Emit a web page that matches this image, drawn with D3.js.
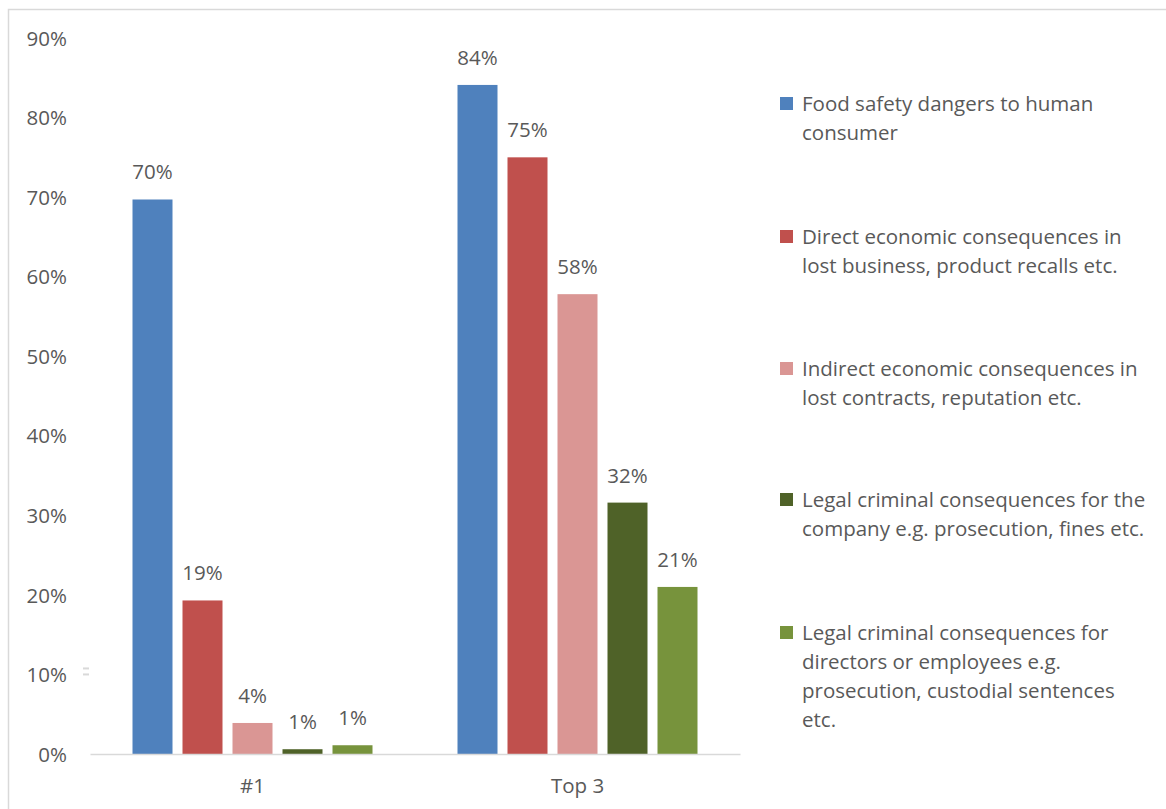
<!DOCTYPE html>
<html>
<head>
<meta charset="utf-8">
<script src="https://cdn.jsdelivr.net/npm/d3@7/dist/d3.min.js"></script>
<style>
  html, body { margin: 0; padding: 0; background: #fff; }
  svg { display: block; }
  text { font-family: "Open Sans", "Noto Sans", sans-serif; fill: #595959; }
</style>
</head>
<body>
<svg id="chart" width="1166" height="809"></svg>
<script>
// Chart data
const categories = ["#1", "Top 3"];
const seriesNames = [
  "Food safety dangers to human consumer",
  "Direct economic consequences in lost business, product recalls etc.",
  "Indirect economic consequences in lost contracts, reputation etc.",
  "Legal criminal consequences for the company e.g. prosecution, fines etc.",
  "Legal criminal consequences for directors or employees e.g. prosecution, custodial sentences etc."
];
const legendLines = [
  ["Food safety dangers to human", "consumer"],
  ["Direct economic consequences in", "lost business, product recalls etc."],
  ["Indirect economic consequences in", "lost contracts, reputation etc."],
  ["Legal criminal consequences for the", "company e.g. prosecution, fines etc."],
  ["Legal criminal consequences for", "directors or employees e.g.", "prosecution, custodial sentences", "etc."]
];
const seriesColors = ["#4f81bd", "#c0504d", "#da9694", "#4f6228", "#77933c"];
// values per series: [#1, Top 3]
const foodSafety = [0.697, 0.841];
const directEconomic = [0.193, 0.750];
const indirectEconomic = [0.039, 0.578];
const legalCompany = [0.006, 0.316];
const legalDirectors = [0.011, 0.210];
const seriesValues = [foodSafety, directEconomic, indirectEconomic, legalCompany, legalDirectors];
const yTicks = [0, 0.1, 0.2, 0.3, 0.4, 0.5, 0.6, 0.7, 0.8, 0.9];

const FONT = "'Open Sans', 'Noto Sans', sans-serif";
const FS = 20.5;

const svg = d3.select("#chart");

// outer chart frame
svg.append("path")
  .attr("d", "M8.5,809 V9.5 H1166")
  .attr("fill", "none")
  .attr("stroke", "#d9d9d9")
  .attr("stroke-width", 1.5);

const plot = { left: 90, right: 740, top: 38, bottom: 754 };

const x0 = d3.scaleBand().domain(categories).range([plot.left, plot.right]);
const y = d3.scaleLinear().domain([0, 0.9]).range([plot.bottom, plot.top]);

const pct = d3.format(".0%");

// y axis labels
const yAxis = d3.axisLeft(y).tickValues(yTicks).tickFormat(pct).tickSize(0).tickPadding(0);
const yg = svg.append("g").attr("transform", "translate(67,0)").call(yAxis);
yg.select(".domain").remove();
yg.selectAll("text")
  .style("font-family", FONT)
  .attr("font-size", FS)
  .attr("fill", "#595959")
  .attr("dy", "0.35em");

// small tick artefact beside the 10% label
svg.append("g").selectAll("rect").data([0, 1]).join("rect")
  .attr("x", 83).attr("width", 6)
  .attr("y", d => y(0.1) - 7 + d * 6)
  .attr("height", 2)
  .attr("fill", "#d9d9d9");

// bars
const barW = 40, step = 50;
const groups = svg.append("g").selectAll("g").data(categories).join("g");

seriesValues.forEach((vals, si) => {
  groups.append("rect")
    .attr("x", (c, ci) => x0(c) + x0.bandwidth() / 2 + (si - 2) * step - barW / 2)
    .attr("y", (c, ci) => y(vals[ci]))
    .attr("width", barW)
    .attr("height", (c, ci) => y(0) - y(vals[ci]))
    .attr("fill", seriesColors[si]);
  groups.append("text")
    .attr("x", (c, ci) => x0(c) + x0.bandwidth() / 2 + (si - 2) * step)
    .attr("y", (c, ci) => y(vals[ci]) - 20)
    .attr("text-anchor", "middle")
    .style("font-family", FONT)
    .attr("font-size", FS)
    .attr("fill", "#404040")
    .text((c, ci) => pct(vals[ci]));
});

// x axis
const xAxis = d3.axisBottom(x0).tickSize(0).tickPadding(0);
const xg = svg.append("g").attr("transform", `translate(0,${plot.bottom})`).call(xAxis);
xg.select(".domain").attr("stroke", "#d9d9d9").attr("stroke-width", 1.5);
xg.selectAll("text")
  .style("font-family", FONT)
  .attr("font-size", FS)
  .attr("fill", "#595959")
  .attr("y", 32)
  .attr("dy", "0.35em");

// legend
const legend = svg.append("g");
const legendTop = [104, 237, 369, 500, 633];
legendLines.forEach((lines, i) => {
  const g = legend.append("g").attr("transform", `translate(780,${legendTop[i]})`);
  g.append("rect").attr("x", 0).attr("y", -7).attr("width", 13).attr("height", 13)
    .attr("fill", seriesColors[i]);
  const t = g.append("text").attr("x", 22).attr("y", 0)
    .style("font-family", FONT).attr("font-size", FS)
    .attr("fill", "#595959");
  lines.forEach((ln, j) => {
    t.append("tspan").attr("x", 22).attr("y", j * 29).attr("dy", "0.35em").text(ln);
  });
});
</script>
</body>
</html>
